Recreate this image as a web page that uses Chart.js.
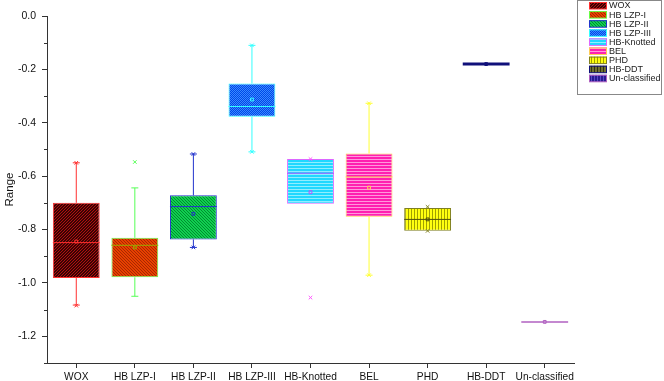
<!DOCTYPE html>
<html>
<head>
<meta charset="utf-8">
<script src="https://cdn.jsdelivr.net/npm/chart.js@4.4.1/dist/chart.umd.min.js"></script>
<style>
  html, body { margin: 0; padding: 0; background: #fff; }
  #wrap { width: 664px; height: 381px; position: relative; }
</style>
</head>
<body>
<div id="wrap"><canvas id="rangeChart"></canvas></div>
<script>
// categories and box-plot statistics
var categories = ["WOX", "HB LZP-I", "HB LZP-II", "HB LZP-III", "HB-Knotted", "BEL", "PHD", "HB-DDT", "Un-classified"];
var q1 = [-0.982, -0.979, -0.837, -0.377, -0.703, -0.752, -0.805, -0.18, -1.146];
var q3 = [-0.700, -0.831, -0.672, -0.253, -0.536, -0.515, -0.719, -0.18, -1.146];
var medians = [-0.849, -0.859, -0.714, -0.339, -0.589, -0.603, -0.762, -0.18, -1.146];
var means = [-0.845, -0.867, -0.741, -0.313, -0.660, -0.643, -0.762, -0.18, -1.146];
var whiskerLow = [-1.083, -1.050, -0.867, -0.509, -0.703, -0.971, -0.805, -0.18, -1.146];
var whiskerHigh = [-0.550, -0.644, -0.517, -0.110, -0.536, -0.327, -0.719, -0.18, -1.146];
var extremeMax = [-0.550, -0.547, -0.517, -0.110, -0.536, -0.327, -0.715, null, null];
var extremeMin = [-1.085, null, -0.867, -0.509, -1.055, -0.971, -0.805, null, null];
var majorTicks = [0.0, -0.2, -0.4, -0.6, -0.8, -1.0, -1.2];
var minorTicks = [-0.1, -0.3, -0.5, -0.7, -0.9, -1.1, -1.3];

// styles
var boxBg = [
    ["#3a0404", "#b01010", "/"],
    ["#e84000", "#a82800", "\\"],
    ["#10d050", "#008c30", "\\"],
    ["#0048e8", "#3a88ff", "#"],
    ["#20d8ff", "#90eeff", "-"],
    ["#ff20b0", "#ff98dc", "-"],
    ["#ffff10", "#a0a000", "|"],
    ["#707030", "#303010", "|"],
    ["#2a1a90", "#5848c8", "|"],
];
var boxBorder = ["#ff3030", "#66ff44", "#2233cc", "#33ffff", "#dd66ff", "#ffcc55", "#808020", "#10107a", "#b060c0"];
var whiskerColor = ["#ff3030", "#55ff55", "#2233cc", "#33ffff", "#ff55ff", "#ffff33", "#808020", "#10107a", "#b060c0"];
var medianColor = ["#ff3030", "#99aa00", "#2233cc", "#33ffff", "#bb55ff", "#ffcc55", "#505010", "#10107a", "#b060c0"];
var medianWidth = [1, 1, 1, 1, 1, 1, 1, 3, 1.5];

function makePattern(bg, fg, kind) {
    var c = document.createElement("canvas");
    c.width = 6;
    c.height = 6;
    var g = c.getContext("2d");
    g.fillStyle = bg;
    g.fillRect(0, 0, 6, 6);
    g.fillStyle = fg;
    for (var x = 0; x < 6; x++) {
        for (var y = 0; y < 6; y++) {
            var on = false;
            if (kind == "/") on = (x + y) % 3 == 0;
            else if (kind == "\\") on = (x - y + 6) % 3 == 0;
            else if (kind == "-") on = y % 3 == 0;
            else if (kind == "|") on = x % 3 == 0;
            else if (kind == "#") on = (x + y) % 2 == 0;
            if (on) g.fillRect(x, y, 1, 1);
        }
    }
    return g.createPattern(c, "repeat");
}
var patterns = boxBg.map(function (b) { return makePattern(b[0], b[1], b[2]); });

var boxPlotPlugin = {
    id: "boxPlotExtras",
    afterDatasetsDraw: function (chart) {
        var ctx = chart.ctx;
        var xs = chart.scales.x;
        var ys = chart.scales.y;
        var step = xs.getPixelForValue(1) - xs.getPixelForValue(0);
        var half = step * 0.8 / 2;
        ctx.save();
        for (var i = 0; i < categories.length; i++) {
            var cx = xs.getPixelForValue(i);
            ctx.strokeStyle = whiskerColor[i];
            ctx.lineWidth = 1;
            // whiskers
            ctx.beginPath();
            if (whiskerHigh[i] > q3[i]) {
                ctx.moveTo(cx, ys.getPixelForValue(q3[i]));
                ctx.lineTo(cx, ys.getPixelForValue(whiskerHigh[i]));
                ctx.moveTo(cx - 3.5, ys.getPixelForValue(whiskerHigh[i]));
                ctx.lineTo(cx + 3.5, ys.getPixelForValue(whiskerHigh[i]));
            }
            if (whiskerLow[i] < q1[i]) {
                ctx.moveTo(cx, ys.getPixelForValue(q1[i]));
                ctx.lineTo(cx, ys.getPixelForValue(whiskerLow[i]));
                ctx.moveTo(cx - 3.5, ys.getPixelForValue(whiskerLow[i]));
                ctx.lineTo(cx + 3.5, ys.getPixelForValue(whiskerLow[i]));
            }
            ctx.stroke();
            // median
            ctx.strokeStyle = medianColor[i];
            ctx.lineWidth = medianWidth[i];
            ctx.beginPath();
            ctx.moveTo(cx - half, ys.getPixelForValue(medians[i]));
            ctx.lineTo(cx + half, ys.getPixelForValue(medians[i]));
            ctx.stroke();
        }
        ctx.restore();
    },
    afterDraw: function (chart) {
        var ctx = chart.ctx;
        var ys = chart.scales.y;
        var left = chart.chartArea.left;
        ctx.save();
        // minor ticks
        ctx.strokeStyle = "#333";
        ctx.lineWidth = 1;
        ctx.beginPath();
        minorTicks.forEach(function (v) {
            var py = Math.round(ys.getPixelForValue(v)) + 0.5;
            ctx.moveTo(left - 3, py);
            ctx.lineTo(left, py);
        });
        ctx.stroke();
        // legend
        ctx.strokeStyle = "#888";
        ctx.strokeRect(577.5, 0.5, 84, 94);
        ctx.font = "9px 'Liberation Sans', Arial, sans-serif";
        ctx.textBaseline = "middle";
        for (var i = 0; i < categories.length; i++) {
            var cy = 5.5 + i * 9.1;
            ctx.fillStyle = patterns[i];
            ctx.fillRect(589, cy - 3.5, 18, 7);
            ctx.strokeStyle = boxBorder[i];
            ctx.strokeRect(589.5, cy - 3, 17, 6.5);
            ctx.fillStyle = "#222";
            ctx.fillText(categories[i], 609, cy + 0.5);
        }
        ctx.restore();
    },
};

var boxData = categories.map(function (c, i) {
    return q1[i] === q3[i] ? null : [q1[i], q3[i]];
});

new Chart("rangeChart", {
    type: "bar",
    data: {
        labels: categories,
        datasets: [
            {
                type: "line",
                label: "mean",
                data: means,
                showLine: false,
                pointStyle: "rect",
                pointRadius: 2,
                pointBorderWidth: 1,
                pointBackgroundColor: "rgba(0,0,0,0)",
                pointBorderColor: medianColor,
                order: 1,
            },
            {
                type: "line",
                label: "max",
                data: extremeMax,
                showLine: false,
                pointStyle: "crossRot",
                pointRadius: 2.5,
                pointBorderWidth: 1,
                pointBorderColor: whiskerColor,
                order: 1,
            },
            {
                type: "line",
                label: "min",
                data: extremeMin,
                showLine: false,
                pointStyle: "crossRot",
                pointRadius: 2.5,
                pointBorderWidth: 1,
                pointBorderColor: whiskerColor,
                order: 1,
            },
            {
                label: "box",
                data: boxData,
                backgroundColor: patterns,
                borderColor: boxBorder,
                borderWidth: 1,
                borderSkipped: false,
                barPercentage: 0.8,
                categoryPercentage: 1.0,
                order: 2,
            },
        ],
    },
    options: {
        responsive: true,
        maintainAspectRatio: false,
        animation: false,
        layout: { padding: { top: 16, right: 90, bottom: 0, left: 0 } },
        plugins: {
            legend: { display: false },
            tooltip: { enabled: false },
        },
        scales: {
            x: {
                offset: true,
                grid: { display: true, drawOnChartArea: false, offset: false, tickLength: 5, color: "#333" },
                border: { display: true, color: "#333", width: 1 },
                ticks: { color: "#111", padding: 3, maxRotation: 0, autoSkip: false, font: { family: "'Liberation Sans', Arial", size: 10.2 } },
                afterFit: function (scale) { scale.height = 18; },
            },
            y: {
                min: -1.3,
                max: 0.0,
                afterBuildTicks: function (scale) {
                    scale.ticks = majorTicks.map(function (v) { return { value: v }; });
                },
                grid: { display: true, drawOnChartArea: false, tickLength: 5, color: "#333" },
                border: { display: true, color: "#333", width: 1 },
                ticks: {
                    color: "#111",
                    padding: 6,
                    font: { family: "'Liberation Sans', Arial", size: 10.5 },
                    callback: function (v) { return Number(v).toFixed(1); },
                },
                title: { display: true, text: "Range", color: "#111", padding: { top: 3, bottom: 0 }, font: { family: "'Liberation Sans', Arial", size: 11.5 } },
                afterFit: function (scale) { scale.width = 47; },
            },
        },
    },
    plugins: [boxPlotPlugin],
});
</script>
</body>
</html>
